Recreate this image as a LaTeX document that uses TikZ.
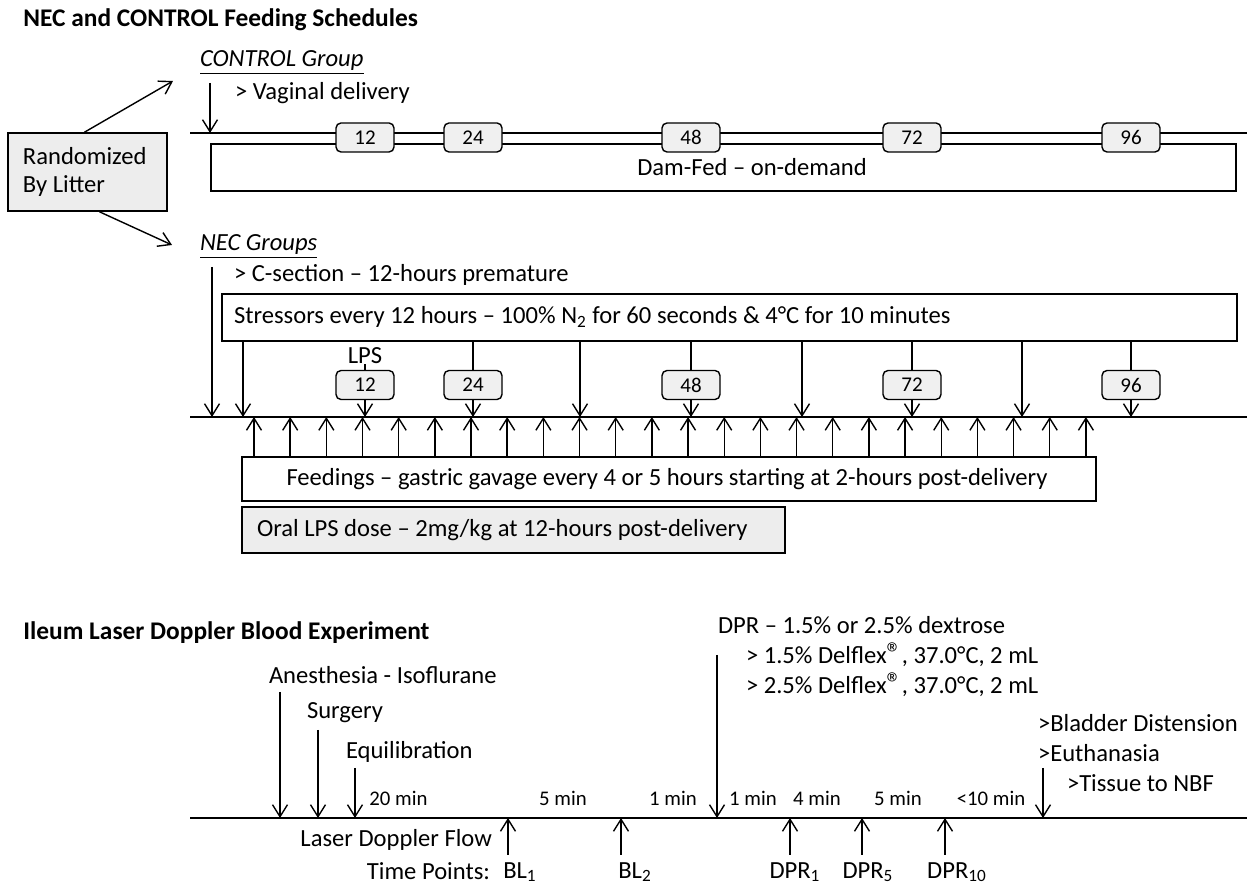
\documentclass[tikz,border=0pt]{standalone}
\usepackage{fontspec}
\setmainfont{Carlito}
\usetikzlibrary{arrows.meta,positioning}
\newcommand{\regmark}{{\fontsize{15}{15}\selectfont ®}}
\tikzset{
  txt/.style={inner sep=0pt,outer sep=0pt,font=\fontsize{12.3}{14}\selectfont},
  mintxt/.style={inner sep=0pt,font=\fontsize{10.4}{12}\selectfont},
  ttl/.style={anchor=west,inner sep=0pt,font=\fontsize{12.7}{15}\selectfont\bfseries},
  hrbox/.style={draw,line width=0.7pt,rounded corners=2.5pt,fill=black!6,minimum width=29pt,minimum height=14.5pt,inner sep=0pt,font=\fontsize{10.5}{12}\selectfont},
  tl/.style={line width=0.8pt},
  arr/.style={line width=0.7pt,-{Straight Barb[length=6pt,width=7.5pt,line width=0.7pt]}},
}
\begin{document}
\begin{tikzpicture}[x=0.5pt,y=-0.5pt]
\useasboundingbox[fill=white] (0,0) rectangle (1255,886);
% feeding schedules
\node[ttl] (title1) at (23,20) {NEC and CONTROL Feeding Schedules};
\node[draw,tl,fill=black!7,minimum width=79.5pt,minimum height=39pt,inner sep=0pt] (rand) at (87.5,172) {};
\node[txt,anchor=west,align=left] (randtxt) at (23,172) {Randomized\\By Litter};
\coordinate (ctrltip) at (173,81);
\coordinate (nectip) at (172,245);
\draw[arr] ([xshift=-1.5pt]rand.north) -- (ctrltip);
\draw[arr] ([xshift=6pt]rand.south) -- (nectip);
% control group
\node[txt,anchor=west] (ctrl) at (200,63) {\underline{\textit{CONTROL Group}}};
\node[txt,anchor=west] (vag) at (235,93) {> Vaginal delivery};
\coordinate (cL) at (190,133);
\coordinate (cR) at (1247,133);
\node[draw,tl,anchor=north west,minimum width=512.5pt,minimum height=23.5pt,inner sep=0pt] (damfed) at (210,143) {};
\node[txt] (damtxt) at (752,167) {Dam-Fed – on-demand};
\draw[tl] (cL) -- (cR);
\coordinate (cin) at (210,83);
\draw[arr] (cin) -- (cin |- cL);
\foreach \h/\x in {12/365,24/473,48/691,72/912,96/1131}
  \node[hrbox] (c\h) at (\x,137.5) {\h};
% NEC groups
\node[txt,anchor=west] (nec) at (200,247) {\underline{\textit{NEC Groups}}};
\node[txt,anchor=west] (csec) at (234,275) {> C-section – 12-hours premature};
\node[draw,tl,anchor=north west,minimum width=507.5pt,minimum height=23.5pt,inner sep=0pt] (stress) at (221,293) {};
\node[txt,anchor=west] (stresstxt) at (234,317) {Stressors every 12 hours – 100\% N\textsubscript{2} for 60 seconds \& 4°C for 10 minutes};
\coordinate (nL) at (190,417);
\coordinate (nR) at (1247,417);
\draw[tl] (nL) -- (nR);
\coordinate (nin) at (212,267);
\draw[arr] (nin) -- (nin |- nL);
\foreach \h/\x in {12/365,24/473,48/691,72/912,96/1131}{
  \node[hrbox] (n\h) at (\x,385) {\h};
  \draw[arr] (n\h.south) -- (n\h.south |- nL);
}
\foreach \h in {24,48,72,96}
  \draw[line width=0.7pt] (n\h.north |- stress.south) -- (n\h.north);
\node[txt] (lps) at (365,356) {LPS};
\draw[line width=0.7pt] (lps.south) -- (n12.north);
\foreach \x in {243,580,802,1022}
  \draw[arr] (stress.south -| \x,0) -- (nL -| \x,0);
\node[draw,tl,anchor=north west,minimum width=427pt,minimum height=22pt,inner sep=0pt] (feed) at (241,456) {};
\node[txt] (feedtxt) at (667,479) {Feedings – gastric gavage every 4 or 5 hours starting at 2-hours post-delivery};
\foreach \i in {0,...,23}
  \draw[arr] (feed.north -| 254+36.17*\i,0) -- (nL -| 254+36.17*\i,0);
\node[draw,tl,fill=black!7,anchor=north west,minimum width=271.5pt,minimum height=23pt,inner sep=0pt] (oral) at (241,506) {};
\node[txt,anchor=west] (oraltxt) at (257,530) {Oral LPS dose – 2mg/kg at 12-hours post-delivery};
% laser doppler experiment
\node[ttl] (title2) at (23,633) {Ileum Laser Doppler Blood Experiment};
\coordinate (bL) at (190,818);
\coordinate (bR) at (1247,818);
\draw[tl] (bL) -- (bR);
\node[txt,anchor=west] (anes) at (269,675) {Anesthesia - Isoflurane};
\node[txt,anchor=west] (surg) at (307,713) {Surgery};
\node[txt,anchor=west] (equil) at (346,752) {Equilibration};
\foreach \x/\y in {280/692,318/730,355/768,717/655,1043/768}{
  \coordinate (top\x) at (\x,\y);
  \draw[arr] (top\x) -- (top\x |- bL);
}
\node[mintxt,anchor=west] (m20) at (369,798) {20 min};
\foreach \x/\t in {563/5 min,673/1 min,753/1 min,817/4 min,898/5 min,991/<10 min}
  \node[mintxt] at (\x,798) {\t};
\node[txt,anchor=west] (dpr) at (718,625) {DPR – 1.5\% or 2.5\% dextrose};
\node[txt,anchor=west] (dex1) at (746,655) {> 1.5\% Delflex\regmark, 37.0°C, 2 mL};
\node[txt,anchor=west] (dex2) at (746,685) {> 2.5\% Delflex\regmark, 37.0°C, 2 mL};
\node[txt,anchor=west] (blad) at (1038,723) {>Bladder Distension};
\node[txt,anchor=west] (euth) at (1038,753) {>Euthanasia};
\node[txt,anchor=west] (tiss) at (1067,783) {>Tissue to NBF};
\node[txt,anchor=east] (ldf) at (492,840) {Laser Doppler Flow};
\node[txt,anchor=east] (tp) at (490,871) {Time Points:};
\foreach \x/\lx/\t in {508/520/BL\textsubscript{1},621/635/BL\textsubscript{2},790/795/DPR\textsubscript{1},862/868/DPR\textsubscript{5},945/957/DPR\textsubscript{10}}{
  \coordinate (bot\x) at (\x,855);
  \draw[arr] (bot\x) -- (bot\x |- bL);
  \node[txt] at (\lx,872) {\t};
}
\end{tikzpicture}
\end{document}
